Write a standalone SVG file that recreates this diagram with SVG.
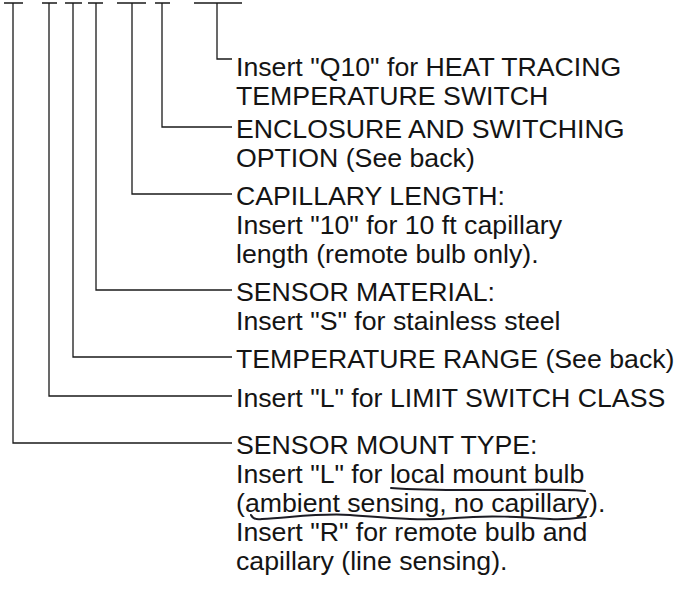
<svg xmlns="http://www.w3.org/2000/svg" width="678" height="612" viewBox="0 0 678 612">
  <style>
    .t { font-family: "Liberation Sans", Arial, sans-serif; font-size: 26.7px; fill: #141414; }
    .ld { fill: none; stroke: #1a1a1a; stroke-width: 1.3; }
    .ink { fill: none; stroke: #1c1c24; stroke-width: 2; stroke-linecap: round; stroke-linejoin: round; }
  </style>
  <rect width="678" height="612" fill="#ffffff"/>

  <g id="connectors">
    <!-- top bars -->
    <path class="ld" d="M4 3H23 M42 3H57 M65 3H82 M88 3H103 M117 3H146 M155 3H170 M194 3H242"/>
    <!-- leaders -->
    <path class="ld" d="M217 3V59H232"/>
    <path class="ld" d="M162 3V127H232"/>
    <path class="ld" d="M132 3V194H232"/>
    <path class="ld" d="M96 3V290H232"/>
    <path class="ld" d="M73 3V357H232"/>
    <path class="ld" d="M49 3V396H232"/>
    <path class="ld" d="M13 3V443H232"/>
  </g>

  <g id="node-q10">
    <text class="t" x="236" y="75.5">Insert "Q10" for HEAT TRACING</text>
    <text class="t" x="236" y="104.5">TEMPERATURE SWITCH</text>
  </g>
  <g id="node-enclosure">
    <text class="t" x="236" y="137.5">ENCLOSURE AND SWITCHING</text>
    <text class="t" x="236" y="166.5">OPTION (See back)</text>
  </g>
  <g id="node-capillary">
    <text class="t" x="236" y="204.5">CAPILLARY LENGTH:</text>
    <text class="t" x="236" y="233.5">Insert "10" for 10 ft capillary</text>
    <text class="t" x="236" y="262.5">length (remote bulb only).</text>
  </g>
  <g id="node-material">
    <text class="t" x="236" y="300.5">SENSOR MATERIAL:</text>
    <text class="t" x="236" y="329.5">Insert "S" for stainless steel</text>
  </g>
  <g id="node-range">
    <text class="t" x="236" y="367.5">TEMPERATURE RANGE (See back)</text>
  </g>
  <g id="node-limit">
    <text class="t" x="236" y="406.5">Insert "L" for LIMIT SWITCH CLASS</text>
  </g>
  <g id="node-mount">
    <text class="t" x="236" y="453.5">SENSOR MOUNT TYPE:</text>
    <text class="t" x="236" y="482.5">Insert "L" for local mount bulb</text>
    <text class="t" x="236" y="511.5">(ambient sensing, no capillary).</text>
    <text class="t" x="236" y="540.5">Insert "R" for remote bulb and</text>
    <text class="t" x="236" y="569.5">capillary (line sensing).</text>
    <!-- handwritten underlines -->
    <path class="ink" d="M391 488 C430 491 470 490 510 490 C545 490 570 489 585 491"/>
    <path class="ink" d="M251 515 C253 519 256 520 262 519 C295 517 322 513 350 515 C390 518 420 521 455 518 C490 515 520 517 550 519 C565 520 578 518 586 517"/>
  </g>
</svg>
